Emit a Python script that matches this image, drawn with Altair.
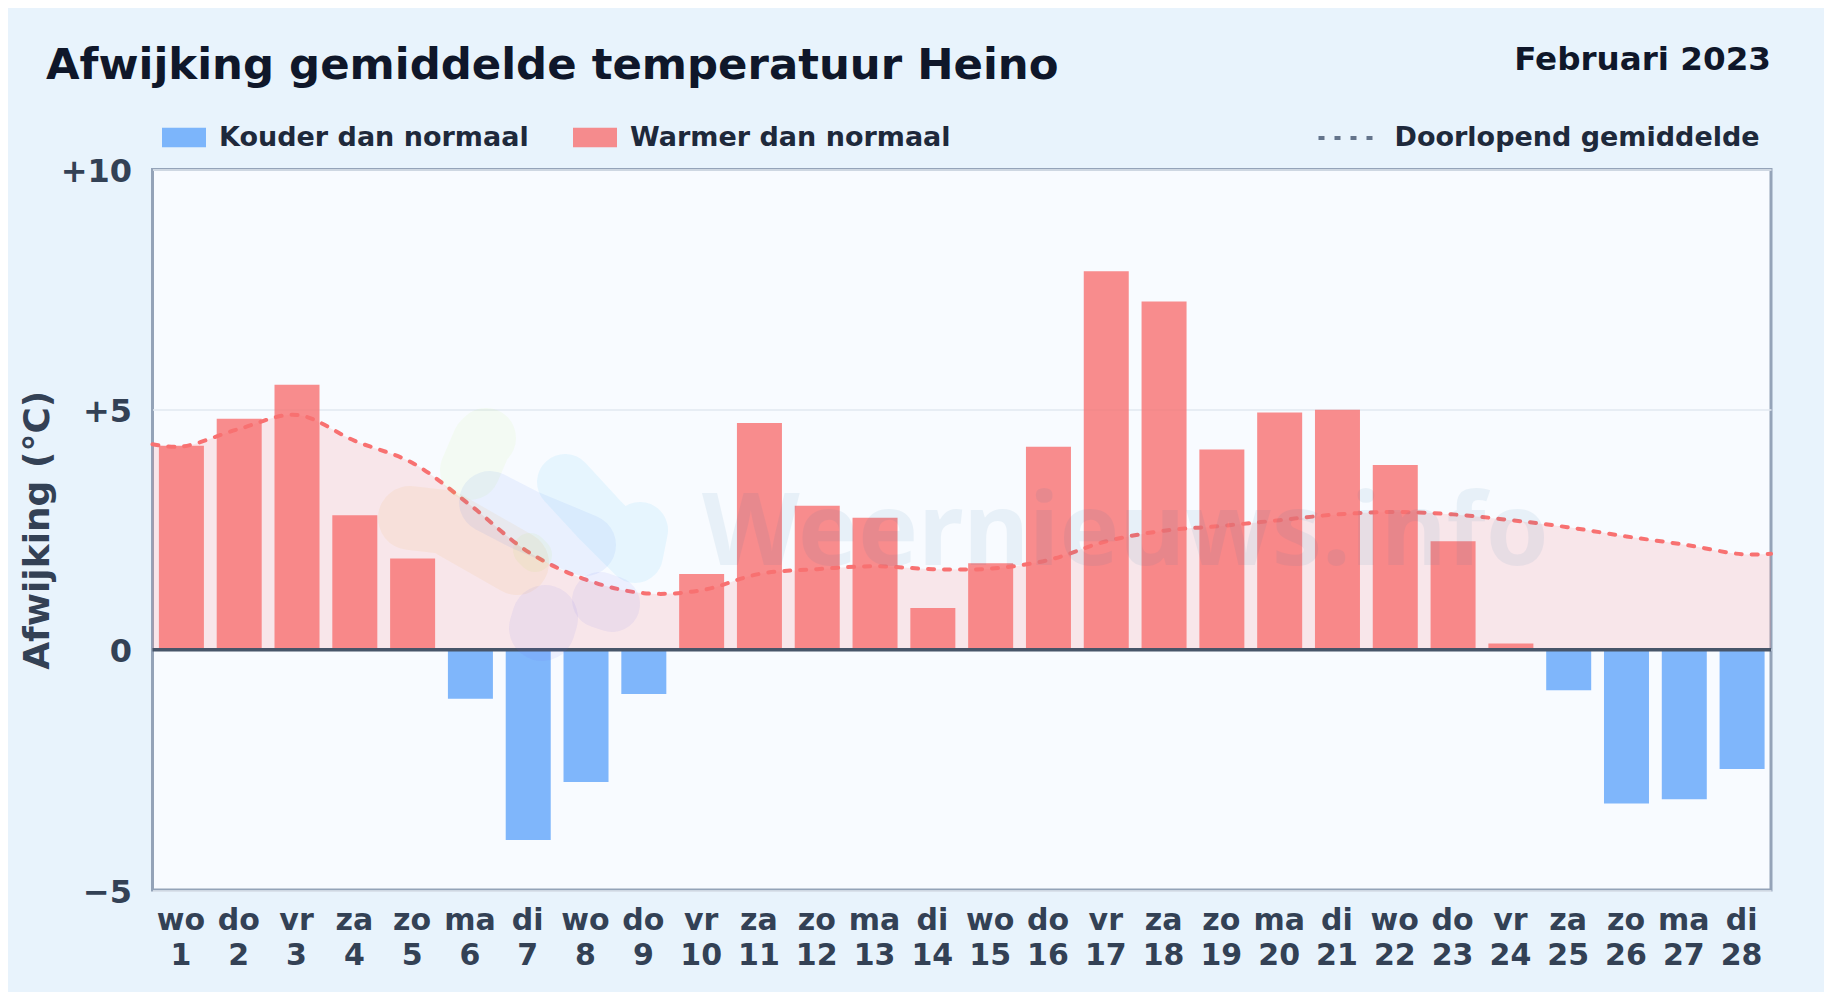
import altair as alt
import pandas as pd

days = list(range(1, 29))
weekdays = ["wo","do","vr","za","zo","ma","di"] * 4
deviation = [4.25,4.81,5.52,2.80,1.90,-1.02,-3.96,-2.75,-0.92,1.58,4.72,3.00,2.75,0.87,
             1.80,4.23,7.88,7.25,4.17,4.94,5.00,3.85,2.26,0.13,-0.84,-3.20,-3.11,-2.48]
mean_x = [0.5] + days + [28.5]
mean_y = [4.28,4.23,4.60,4.89,4.35,3.89,3.01,2.04,1.46,1.18,1.24,1.58,1.68,1.74,1.68,
          1.69,1.87,2.26,2.48,2.58,2.70,2.82,2.87,2.82,2.70,2.55,2.36,2.19,1.99,2.00]
COLD = "Kouder dan normaal"
WARM = "Warmer dan normaal"
MEAN = "Doorlopend gemiddelde"
TITLE = "Afwijking gemiddelde temperatuur Heino"
PERIOD = "Februari 2023"
WATERMARK = "Weernieuws.info"

# decorative logo strokes behind the chart: (colour, opacity, width, pixel points)
logo = [
    ("#a3e635", 0.06, 60, [(482,442),(486,438),(470,470)]),
    ("#f59e0b", 0.07, 64, [(410,518),(445,522),(517,563)]),
    ("#2563eb", 0.07, 62, [(490,502),(525,520),(585,545)]),
    ("#38bdf8", 0.09, 56, [(565,482),(600,520),(640,530),(635,555)]),
    ("#6366f1", 0.08, 66, [(542,628),(545,618)]),
    ("#6366f1", 0.08, 56, [(600,600),(612,604)]),
    ("#a3e635", 0.07, 34, [(530,550),(535,555)]),
]

df = pd.DataFrame({"day": days, "wd": weekdays, "dev": deviation})
df["kind"] = [WARM if v >= 0 else COLD for v in deviation]
mdf = pd.DataFrame({"x": mean_x, "y": mean_y, "s": MEAN})

PW, PH = 1618.5, 720.5
labels = "[" + ",".join(f"['{w}','{d}']" for w, d in zip(weekdays, days)) + "]"
xs = alt.Scale(domain=[0.5, 28.5], nice=False, zero=False, padding=0)
ys = alt.Scale(domain=[-5, 10], nice=False)
xaxis = alt.Axis(title=None,
    values=days, labelExpr=f"{labels}[datum.value-1]", labelFontSize=30, labelFontWeight="bold",
    labelColor="#334155", labelFont="DejaVu Sans", labelLineHeight=35, labelOverlap=False, labelOffset=-1,
    labelFlush=False, labelPadding=15, labelBaseline="top", tickSize=0, domain=False, grid=False)
yaxis = alt.Axis(title="Afwijking (°C)",
    values=[-5, 0, 5, 10], labelExpr="datum.value>0?'+'+datum.value:(datum.value<0?'−'+abs(datum.value):'0')",
    labelFontSize=32, labelFontWeight="bold", labelColor="#334155", labelFont="DejaVu Sans", labelPadding=21,
    labelOffset=2, tickSize=0, domain=False, gridColor="#e2e8f0", gridWidth=1.5, titleFontSize=36, titleFontWeight="bold",
    titleColor="#334155", titleFont="DejaVu Sans", titlePadding=4, labelOverlap=False)

def X(f): return alt.X(f, scale=xs, axis=xaxis)
def Y(f): return alt.Y(f, scale=ys, axis=yaxis)

area = alt.Chart(mdf).mark_area(color="#f87171", opacity=0.15, interpolate="catmull-rom").encode(
    x=X("x:Q"), y=Y("y:Q"), y2=alt.datum(0))

bars = alt.Chart(df).mark_bar(width=45, opacity=0.8).encode(
    x=X("day:Q"), y=Y("dev:Q"), y2=alt.datum(0),
    color=alt.Color("kind:N", scale=alt.Scale(domain=[COLD, WARM], range=["#60a5fa", "#f87171"]), legend=alt.Legend(
        orient="none", legendX=9.5, legendY=-54, direction="horizontal", title=None, columns=2,
        symbolType="M-1,-0.44H1V0.44H-1Z", symbolSize=1936, symbolOpacity=0.8, symbolStrokeWidth=0,
        labelFontSize=27, labelFontWeight="bold", labelColor="#1e293b", labelFont="DejaVu Sans",
        labelOffset=13, columnPadding=44, labelLimit=0)))

zero = alt.Chart(pd.DataFrame({"v": [0]})).mark_rule(color="#475569", strokeWidth=3.5).encode(y=Y("v:Q"))

line = alt.Chart(mdf).mark_line(color="#f87171", strokeWidth=4, strokeCap="round", interpolate="catmull-rom").encode(
    x=X("x:Q"), y=Y("y:Q"),
    strokeDash=alt.StrokeDash("s:N", scale=alt.Scale(domain=[MEAN], range=[[6, 10]]), legend=alt.Legend(
        orient="none", legendX=1164, legendY=-61, title=None, symbolType="stroke", symbolSize=3025,
        symbolStrokeColor="#64748b", symbolStrokeWidth=4, labelFontSize=27, labelFontWeight="bold",
        labelColor="#1e293b", labelFont="DejaVu Sans", labelOffset=19, labelLimit=0)))

logo_layers = []
for col, op, w, pts in logo:
    d = pd.DataFrame({"x": [(p[0]-152.5)/57.8+0.5 for p in pts], "y": [10-(p[1]-169.5)/48.03 for p in pts]})
    logo_layers.append(alt.Chart(d).mark_line(color=col, opacity=op, strokeWidth=w, strokeCap="round", strokeJoin="round").encode(
        x=X("x:Q"), y=Y("y:Q")))

wm = alt.Chart(pd.DataFrame({"t": [WATERMARK]})).mark_text(font="Noto Sans", fontSize=101, fontWeight="bold", color="#1d6fa5", opacity=0.07,
    align="left", baseline="alphabetic").encode(text="t:N", x=alt.value(549.5), y=alt.value(395.5))
title = alt.Chart(pd.DataFrame({"t": [TITLE]})).mark_text(font="DejaVu Sans", fontSize=43.4, fontWeight="bold", color="#0f172a",
    align="left", baseline="alphabetic", limit=0).encode(text="t:N", x=alt.value(-106.5), y=alt.value(-90.5))
period = alt.Chart(pd.DataFrame({"t": [PERIOD]})).mark_text(font="DejaVu Sans", fontSize=32.6, fontWeight="bold", color="#0f172a",
    align="right", baseline="alphabetic").encode(text="t:N", x=alt.value(PW), y=alt.value(-99.5))

chart = alt.layer(area, bars, zero, line, *logo_layers, wm, title, period).resolve_legend(strokeDash="independent", color="independent").properties(
    width=PW, height=PH, background="#e8f3fc",
    padding={"left": 144.5, "top": 161.5, "right": 53, "bottom": 102},
    autosize=alt.AutoSizeParams(type="none"),
).configure_view(fill="#f8fbff", stroke="#94a3b8", strokeWidth=3)

chart.save("out.html", embed_options={"renderer": "svg", "actions": False})
